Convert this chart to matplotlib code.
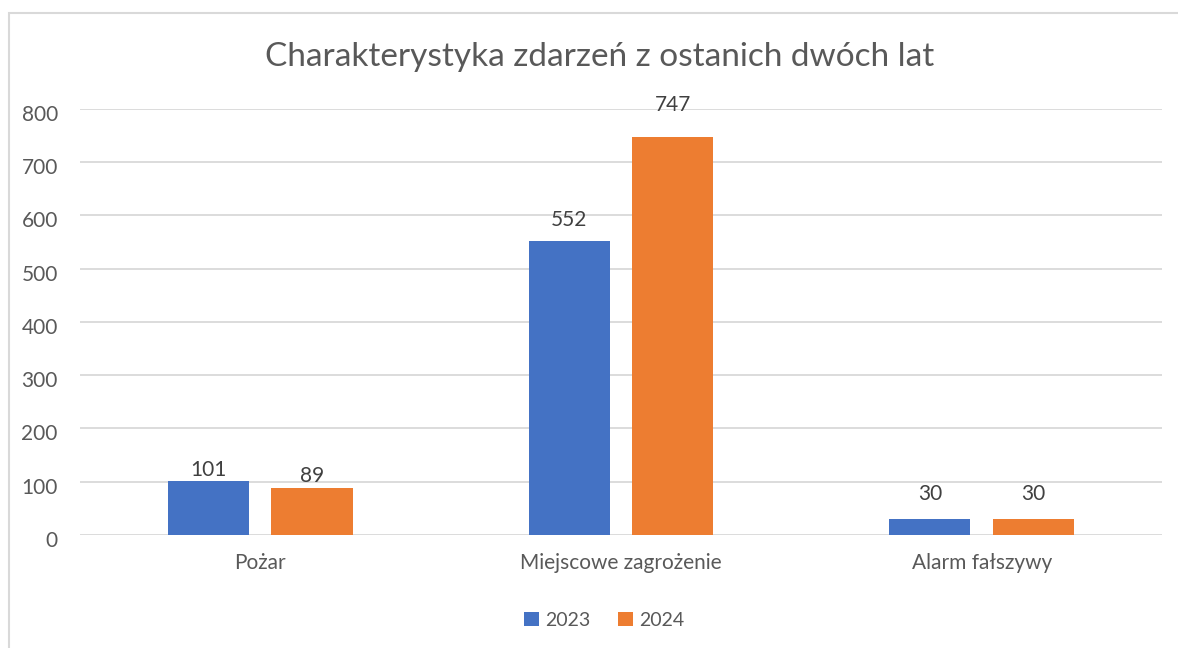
import numpy as np
import matplotlib.pyplot as plt
import matplotlib.transforms as mtransforms
from matplotlib.patches import Rectangle

# ------------------ DATA ------------------

categories = ['Pożar', 'Miejscowe zagrożenie', 'Alarm fałszywy']
years = ['2023', '2024']
values_2023 = [101, 552, 30]
values_2024 = [89, 747, 30]
yticks = [0, 100, 200, 300, 400, 500, 600, 700, 800]

# data labels were nudged by hand in the original, distance above bar (px)
label_lift_2023 = [11, 21.5, 25.5]
label_lift_2024 = [12, 32.5, 25.5]

colors = ['#4472C4', '#ED7D31']
text_color = '#595959'
grid_color = '#D9D9D9'

plt.rcParams['font.family'] = ['Lato', 'DejaVu Sans']

# ------------------ PLOT ------------------

fig = plt.figure(figsize=(11.78, 6.48), dpi=100)
ax = fig.add_axes([0.0679, 0.1744, 0.9185, 0.6574])

# chart frame (runs off the right and bottom edge)
fig.patches.append(Rectangle((9/1178, -0.05), 1.2, 1 - 13/648 + 0.05,
                             transform=fig.transFigure, fill=False,
                             edgecolor=grid_color, linewidth=1.5))

x = np.arange(len(categories))
w = 0.225
off = 0.1435
bars1 = ax.bar(x - off, values_2023, w, color=colors[0], label=years[0], zorder=3)
bars2 = ax.bar(x + off, values_2024, w, color=colors[1], label=years[1], zorder=3)

for bars, lifts in ((bars1, label_lift_2023), (bars2, label_lift_2024)):
    for b, lift in zip(bars, lifts):
        ax.annotate(str(int(b.get_height())), (b.get_x() + b.get_width()/2, b.get_height()),
                    xytext=(0, lift), textcoords='offset pixels',
                    ha='center', va='center', fontsize=15, color='#404040')

ax.set_xlim(-0.5, 2.5)
ax.set_ylim(0, 800)
ax.set_yticks(yticks)
ax.set_xticks(x)
ax.set_xticklabels(categories)
ax.tick_params(axis='both', length=0, labelsize=15, labelcolor=text_color)
ax.tick_params(axis='x', pad=13)
ax.tick_params(axis='y', pad=16)
# excel puts the value labels a bit under the gridline
shift = mtransforms.ScaledTranslation(0, -4/100, fig.dpi_scale_trans)
for lab in ax.get_yticklabels():
    lab.set_transform(lab.get_transform() + shift)
ax.grid(axis='y', color=grid_color, linewidth=1.3, zorder=0)
for s in ax.spines.values():
    s.set_visible(False)

fig.text(0.509, 0.912, 'Charakterystyka zdarzeń z ostanich dwóch lat',
         ha='center', va='center', fontsize=24, color=text_color)

fig.legend(loc='center', bbox_to_anchor=(0.513, 0.043), ncol=2, frameon=False,
           fontsize=14, handlelength=0.75, handleheight=0.75, handletextpad=0.35,
           columnspacing=1.4, labelcolor=text_color)

fig.savefig('out.png', dpi=100)
